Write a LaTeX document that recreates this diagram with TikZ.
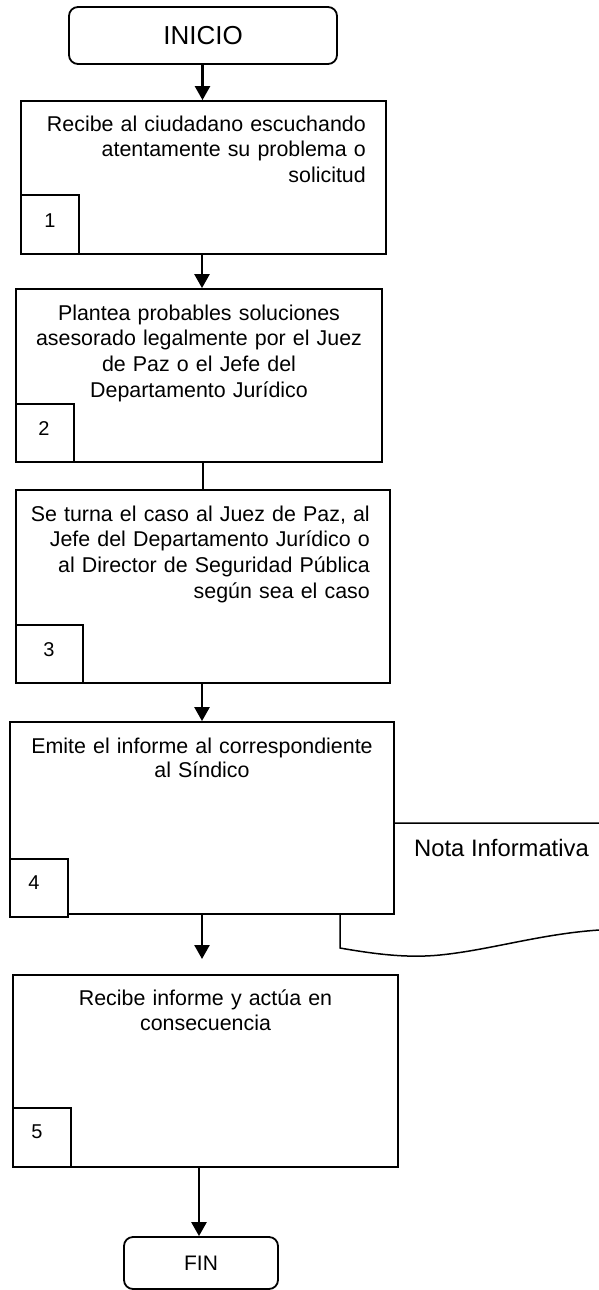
\documentclass[tikz,border=0pt]{standalone}
\usepackage{fontspec}
\setmainfont{Liberation Sans}
\usetikzlibrary{arrows.meta}
\begin{document}
\begin{tikzpicture}[x=1pt,y=-1pt,
  stepbox/.style={draw=black,line width=1.8pt,fill=white,rectangle,inner sep=0pt},
  numbox/.style={draw=black,line width=1.8pt,fill=white,rectangle,inner sep=0pt},
  termbox/.style={draw=black,line width=1.8pt,fill=white,rectangle,rounded corners=9pt,inner sep=0pt},
  bodytext/.style={inner sep=0pt,text width=360pt,font=\fontsize{21.4}{25.8}\selectfont},
  numtext/.style={inner sep=0pt,anchor=base,font=\fontsize{20}{24}\selectfont},
  arr/.style={line width=2.5pt,-{Triangle[width=15pt,length=14pt]}},
  conn/.style={line width=2.5pt},
  docline/.style={line width=1.5pt}
]
\useasboundingbox (0,0) rectangle (599,1290);

% document shape (behind box 4)
\draw[docline] (599,823) -- (340,823) -- (340,948)
  .. controls (380,955) and (410,958) .. (440,955)
  .. controls (490,950) and (540,934) .. (599,930);

% terminals
\node[termbox,minimum width=268pt,minimum height=57pt] (inicio) at (203,35.5) {};
\node[inner sep=0pt,anchor=base,font=\fontsize{26}{30}\selectfont] (tinicio) at (203,45) {INICIO};

\node[termbox,minimum width=154pt,minimum height=52pt] (fin) at (201,1263) {};
\node[inner sep=0pt,anchor=base,font=\fontsize{21}{25}\selectfont] (tfin) at (201,1270) {FIN};

% step boxes
\node[stepbox,minimum width=365pt,minimum height=153pt] (b1) at (203.5,177.5) {};
\node[stepbox,minimum width=366pt,minimum height=173pt] (b2) at (199,375.5) {};
\node[stepbox,minimum width=374pt,minimum height=193pt] (b3) at (203,586.5) {};
\node[stepbox,minimum width=384pt,minimum height=192pt] (b4) at (202,818) {};
\node[stepbox,minimum width=385pt,minimum height=192pt] (b5) at (205.5,1071) {};

% number boxes
\node[numbox,minimum width=58pt,minimum height=59pt] (n1) at (50,224.5) {};
\node[numbox,minimum width=58pt,minimum height=58pt] (n2) at (45,433) {};
\node[numbox,minimum width=67pt,minimum height=58pt] (n3) at (49.5,654) {};
\node[numbox,minimum width=58pt,minimum height=58pt] (n4) at (39,888) {};
\node[numbox,minimum width=58pt,minimum height=59pt] (n5) at (42,1137.5) {};

\node[numtext] (l1) at (50,227) {1};
\node[numtext] (l2) at (44,435) {2};
\node[numtext] (l3) at (49,656) {3};
\node[numtext] (l4) at (34,889) {4};
\node[numtext] (l5) at (37,1138) {5};

% step texts
\node[bodytext,align=right,anchor=base east] (t1) at (366,131)
  {Recibe al ciudadano escuchando\\atentamente su problema o\\solicitud};
\node[bodytext,align=center,anchor=base] (t2) at (199,320)
  {Plantea probables soluciones\\asesorado legalmente por el Juez\\de Paz o el Jefe del\\Departamento Jurídico};
\node[bodytext,align=right,anchor=base east] (t3) at (370,521)
  {Se turna el caso al Juez de Paz, al\\Jefe del Departamento Jurídico o\\al Director de Seguridad Pública\\según sea el caso};
\node[bodytext,align=center,anchor=base,font=\fontsize{21.4}{24.5}\selectfont] (t4) at (202,753)
  {Emite el informe al correspondiente\\al Síndico};
\node[bodytext,align=center,anchor=base] (t5) at (205.5,1005)
  {Recibe informe y actúa en\\consecuencia};

% document label
\node[inner sep=0pt,anchor=base west,font=\fontsize{23.8}{28}\selectfont] (nota) at (414,856) {Nota Informativa};

% connectors
\coordinate (a45) at (202,959);
\draw[arr] (202.5,0 |- inicio.south) -- (202.5,0 |- b1.north);
\draw[arr] (202,0 |- b1.south) -- (202,0 |- b2.north);
\draw[conn] (203,0 |- b2.south) -- (203,0 |- b3.north);
\draw[arr] (202,0 |- b3.south) -- (202,0 |- b4.north);
\draw[arr] (202,0 |- b4.south) -- (a45);
\draw[arr] (199,0 |- b5.south) -- (199,0 |- fin.north);
\end{tikzpicture}
\end{document}
